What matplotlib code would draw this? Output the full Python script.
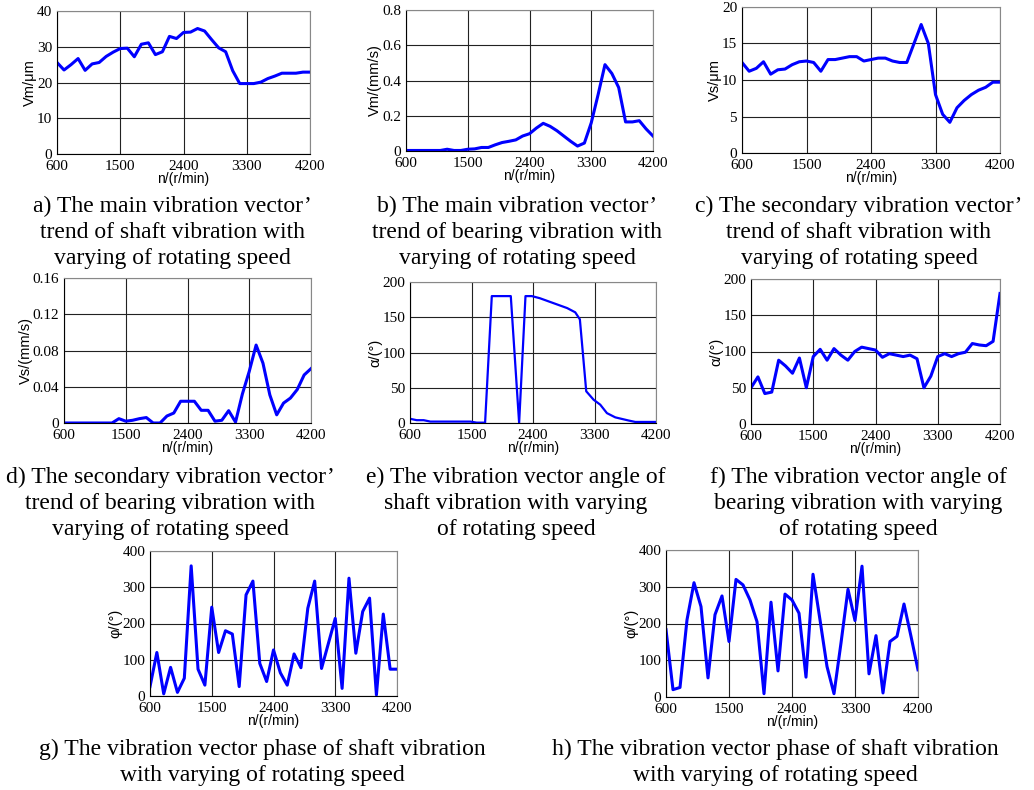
import matplotlib.pyplot as plt

# rotating speed samples (r/min)
speed = [600, 700, 800, 900, 1000, 1100, 1200, 1300, 1400, 1500, 1600, 1700,
         1800, 1900, 2000, 2100, 2200, 2300, 2400, 2500, 2600, 2700, 2800,
         2900, 3000, 3100, 3200, 3300, 3400, 3500, 3600, 3700, 3800, 3900,
         4000, 4100, 4200]

# a) main vector, shaft (um)
vm_shaft = [25.6, 23.5, 25.0, 26.7, 23.4, 25.2, 25.6, 27.3, 28.5, 29.5, 29.6, 27.2,
            30.7, 31.1, 27.8, 28.6, 32.9, 32.3, 34.0, 34.1, 35.1, 34.4, 32.0,
            29.7, 28.6, 23.3, 19.7, 19.7, 19.7, 20.1, 21.1, 21.8, 22.6, 22.6,
            22.6, 22.9, 22.9]
# b) main vector, bearing (mm/s)
vm_bearing = [0.003, 0.003, 0.003, 0.003, 0.003, 0.003, 0.010, 0.003, 0.003, 0.010,
              0.012, 0.020, 0.020, 0.035, 0.048, 0.055, 0.063, 0.085, 0.098, 0.130,
              0.157, 0.140, 0.115, 0.085, 0.055, 0.028, 0.045, 0.160, 0.320, 0.490,
              0.440, 0.360, 0.165, 0.165, 0.172, 0.125, 0.085]
# c) secondary vector, shaft (um)
vs_shaft = [12.4, 11.2, 11.6, 12.5, 10.8, 11.4, 11.5, 12.1, 12.5, 12.6, 12.4, 11.2,
            12.8, 12.8, 13.0, 13.2, 13.2, 12.6, 12.8, 13.0, 13.0, 12.6, 12.4,
            12.4, 15.0, 17.6, 15.0, 8.0, 5.3, 4.2, 6.2, 7.2, 8.0, 8.6,
            9.0, 9.7, 9.7]
# d) secondary vector, bearing (mm/s)
vs_bearing = [0, 0, 0, 0, 0, 0, 0, 0, 0.0048, 0.002, 0.003, 0.0048,
              0.006, 0.0, 0.0, 0.0077, 0.011, 0.024, 0.024, 0.024, 0.014, 0.014,
              0.002, 0.003, 0.0136, 0.001, 0.032, 0.057, 0.086, 0.066, 0.031,
              0.009, 0.022, 0.0275, 0.037, 0.053, 0.060]
# e) vector angle, shaft
speed_e = [600, 698, 800, 898, 1484, 1577, 1699, 1797, 2075, 2197, 2290, 2383,
           2500, 2700, 2900, 3018, 3086, 3179, 3287, 3384, 3482, 3604, 3800,
           3897, 4200]
angle_shaft = [6, 4, 4, 2, 2, 0.5, 0.5, 180, 180, 0, 180, 180,
               177, 170, 163, 157, 147, 45, 33, 26, 14, 8, 3.5,
               1.5, 1.5]
# f) vector angle, bearing
angle_bearing = [50, 65, 42, 44, 88, 80, 70, 91, 50, 93, 103, 88,
                 104, 95, 88, 100, 106, 104, 102, 92, 97, 95, 93,
                 95, 90, 50, 66, 93, 97, 93, 97, 99, 111, 109,
                 108, 114, 180]
# g) vector phase, shaft
phase_g = [26, 120, 6, 79, 10, 49, 359, 74, 30, 245, 120, 180,
           171, 26, 279, 317, 90, 40, 127, 64, 30, 116, 78,
           242, 317, 76, 145, 214, 21, 325, 118, 233, 270, 3,
           226, 74, 74]
# h) vector phase, shaft (second)
phase_h = [183, 20, 26, 210, 311, 246, 52, 224, 275, 151, 320, 305,
           264, 205, 9, 258, 71, 280, 264, 228, 54, 334, 210,
           83, 9, 147, 293, 208, 356, 63, 167, 11, 151, 165,
           253, 165, 74]

captions = [
    "a) The main vibration vector\u2019\ntrend of shaft vibration with\nvarying of rotating speed",
    "b) The main vibration vector\u2019\ntrend of bearing vibration with\nvarying of rotating speed",
    "c) The secondary vibration vector\u2019\ntrend of shaft vibration with\nvarying of rotating speed",
    "d) The secondary vibration vector\u2019\ntrend of bearing vibration with\nvarying of rotating speed",
    "e) The vibration vector angle of\nshaft vibration with varying\nof rotating speed",
    "f) The vibration vector angle of\nbearing vibration with varying\nof rotating speed",
    "g) The vibration vector phase of shaft vibration\nwith varying of rotating speed",
    "h) The vibration vector phase of shaft vibration\nwith varying of rotating speed",
]

W, H = 1034, 790
fig = plt.figure(figsize=(W / 100, H / 100), dpi=100)


def px_axes(left, top, right, bottom):
    return fig.add_axes([left / W, 1 - bottom / H, (right - left) / W, (bottom - top) / H])


def style(ax, yticks, ylabel, ylabels=None):
    ax.set_xlim(600, 4200)
    ax.set_xticks([600, 1500, 2400, 3300, 4200])
    ax.set_ylim(yticks[0], yticks[-1])
    ax.set_yticks(yticks)
    if ylabels is not None:
        ax.set_yticklabels(ylabels)
    ax.grid(True, color='#222222', lw=0.8)
    ax.tick_params(length=0, labelsize=11)
    ax.tick_params(axis='x', pad=4.5)
    ax.tick_params(axis='y', pad=3.5)
    for lab in ax.get_xticklabels() + ax.get_yticklabels():
        lab.set_fontfamily('Liberation Serif')
    ax.set_xlabel('n/(r/min)', fontfamily='Liberation Sans', fontsize=10, labelpad=-1)
    ax.set_ylabel(ylabel, fontfamily='Liberation Sans', fontsize=10.5, labelpad=0)
    ax.spines['left'].set_color('black')
    ax.spines['bottom'].set_color('black')
    ax.spines['top'].set_color('#888888')
    ax.spines['right'].set_color('#888888')


blue = '#0000ff'

ax = px_axes(57, 11, 310, 154)
ax.plot(speed, vm_shaft, color=blue, lw=2.2)
style(ax, [0, 10, 20, 30, 40], 'Vm/\u03bcm')

ax = px_axes(406, 10, 653, 151)
ax.plot(speed, vm_bearing, color=blue, lw=2.2)
style(ax, [0, 0.2, 0.4, 0.6, 0.8], 'Vm/(mm/s)', ['0', '0.2', '0.4', '0.6', '0.8'])

ax = px_axes(742, 7, 1000, 153)
ax.plot(speed, vs_shaft, color=blue, lw=2.2)
style(ax, [0, 5, 10, 15, 20], 'Vs/\u03bcm')

ax = px_axes(64, 278, 311, 423)
ax.plot(speed, vs_bearing, color=blue, lw=2.2)
style(ax, [0, 0.04, 0.08, 0.12, 0.16], 'Vs/(mm/s)', ['0', '0.04', '0.08', '0.12', '0.16'])

ax = px_axes(410, 282, 656, 423)
ax.plot(speed_e, angle_shaft, color=blue, lw=1.6)
style(ax, [0, 50, 100, 150, 200], '\u03b1/(\u00b0)')

ax = px_axes(751, 279, 1000, 424)
ax.plot(speed, angle_bearing, color=blue, lw=2.2)
style(ax, [0, 50, 100, 150, 200], '\u03b1/(\u00b0)')

ax = px_axes(150, 551, 397, 696)
ax.plot(speed, phase_g, color=blue, lw=2.2)
style(ax, [0, 100, 200, 300, 400], '\u03c6/(\u00b0)')

ax = px_axes(666, 550, 918, 697)
ax.plot(speed, phase_h, color=blue, lw=2.2)
style(ax, [0, 100, 200, 300, 400], '\u03c6/(\u00b0)')

# captions: (center x, top y) in pixels
cap_pos = [(172, 196), (517, 196), (859, 196), (170, 467), (516, 467), (858, 467),
           (262, 739), (775, 739)]
for (cx, cy), txt in zip(cap_pos, captions):
    fig.text(cx / W, 1 - cy / H, txt, ha='center', va='top', fontsize=17,
             fontfamily='Liberation Serif', linespacing=1.31)

fig.savefig('out.png', dpi=100)
